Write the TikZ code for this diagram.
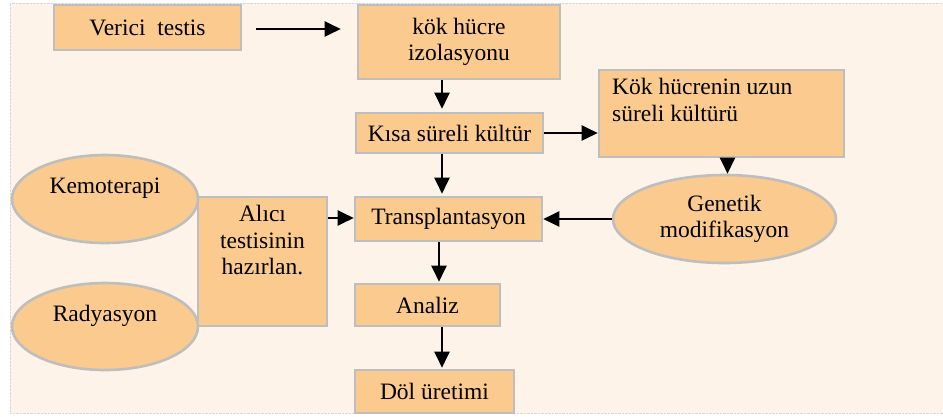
\documentclass[tikz,border=0pt]{standalone}
\usepackage{fontspec}
\setmainfont{Liberation Serif}
\usetikzlibrary{shapes.geometric,arrows.meta}
\definecolor{panelfill}{RGB}{254,243,232}
\definecolor{boxfill}{RGB}{251,202,142}
\definecolor{boxline}{RGB}{190,190,190}
\begin{document}
\begin{tikzpicture}
[x=1pt,y=-1pt,
  font=\fontsize{23.5}{26.5}\selectfont,
  boxdecorate/.style={shape=rectangle,fill=boxfill,draw=boxline,line width=2.6pt,
    inner sep=0pt,align=center},
  ovaldecorate/.style={shape=ellipse,fill=boxfill,draw=boxline,line width=2.6pt,
    inner sep=0pt,align=center},
  arrowdecorate/.style={-{Triangle[length=16pt,width=15pt]},line width=2.2pt,black}]
\useasboundingbox (0,0) rectangle (943,416);
\fill[panelfill] (10,3) rectangle (943,413);
\draw[boxline!60,densely dotted] (10,413) -- (10,3) -- (943,3);
\draw[boxline!60,densely dotted] (10,413) -- (943,413);
%% boxes
\foreach \nodename/\x/\y/\w/\h/\txt in {verici/147.5/27.5/187/45/{Verici\ \ testis},
  kok/459/42/202/74/{kök hücre\\izolasyonu}, kisa/449.5/133/187/40/{Kısa süreli kültür},
  trans/448.5/219/187/44/{Transplantasyon}, analiz/427.5/305/145/42/{Analiz},
  dol/434.5/391.5/159/43/{Döl üretimi}} {
  \node (\nodename) at (\x,\y) [boxdecorate,minimum width=\w,minimum height=\h] {\txt};
}
\node (uzun) at (721.5,113.5) [boxdecorate,minimum width=245,minimum height=87,
  label={[align=left,anchor=north west,xshift=11pt,yshift=-6pt]north west:Kök hücrenin uzun\\süreli kültürü}] {};
\node (alici) at (262.5,261.5) [boxdecorate,minimum width=129,minimum height=129,
  label={[align=center,anchor=north,yshift=-6pt]north:Alıcı\\testisinin\\hazırlan.}] {};
%% ellipses
\node (kemo) at (105,199) [ovaldecorate,minimum width=186,minimum height=88,
  label={[yshift=11pt]center:Kemoterapi}] {};
\node (rad) at (105,326.5) [ovaldecorate,minimum width=186,minimum height=87,
  label={[yshift=11pt]center:Radyasyon}] {};
\node (gen) at (724.5,219) [ovaldecorate,minimum width=223,minimum height=88] {Genetik\\modifikasyon};
%% arrows
\draw[arrowdecorate,shorten <=14pt,shorten >=16pt] ([yshift=-1.5pt]verici.east) -- ([yshift=-1.5pt]verici.east -| kok.west);
\draw[arrowdecorate,shorten >=3pt] ([xshift=-7.5pt]kisa.north |- kok.south) -- ([xshift=-7.5pt]kisa.north);
\draw[arrowdecorate,shorten >=2pt] ([xshift=-7.5pt]kisa.south) -- ([xshift=-7.5pt]kisa.south |- trans.north);
\draw[arrowdecorate] (kisa.east) -- (kisa.east -| uzun.west);
\draw[arrowdecorate,shorten <=-3pt] ([xshift=6pt]uzun.south) -- ([xshift=6pt]uzun.south |- gen.north);
\draw[arrowdecorate] (gen.west) -- (trans.east);
\draw[arrowdecorate] ([yshift=1pt]alici.east |- trans) -- ([yshift=1pt]trans.west);
\draw[arrowdecorate,shorten >=1pt] ([xshift=-9.5pt]trans.south) -- ([xshift=-9.5pt]trans.south |- analiz.north);
\draw[arrowdecorate,shorten >=1pt] ([xshift=-6.5pt]trans.south |- analiz.south) -- ([xshift=-6.5pt]trans.south |- dol.north);
\end{tikzpicture}
\end{document}
